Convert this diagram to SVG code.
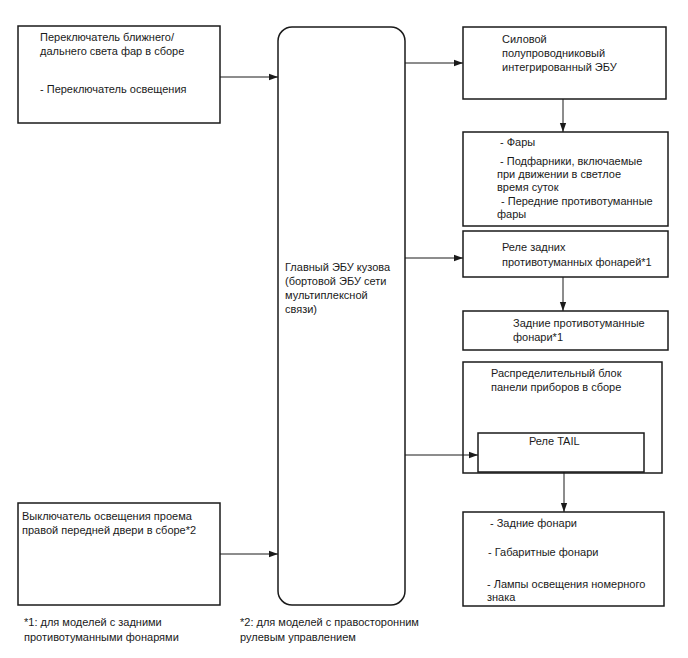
<svg xmlns="http://www.w3.org/2000/svg" width="688" height="658" viewBox="0 0 688 658">
<style>
.b{fill:#fff;stroke:#1a1a1a;stroke-width:1.5}
.c{fill:none;stroke:#1a1a1a;stroke-width:1}
text{font-family:"Liberation Sans",Arial,sans-serif;font-size:11px;fill:#1a1a1a}
</style>
<defs>
<marker id="a" viewBox="0 0 10 10" refX="10" refY="5" markerWidth="9" markerHeight="9" markerUnits="userSpaceOnUse" orient="auto">
<path d="M0,1.5 L10,5 L0,8.5 Z" fill="#1a1a1a"/>
</marker>
</defs>
<rect width="688" height="658" fill="#fff"/>
<g id="n1">
<rect class="b" x="18" y="26" width="202" height="97"/>
<text x="40" y="41">Переключатель ближнего/</text>
<text x="40" y="55">дальнего света фар в сборе</text>
<text x="40" y="93">- Переключатель освещения</text>
</g>
<g id="n2">
<rect class="b" x="18" y="503" width="202" height="102"/>
<text x="22" y="520">Выключатель освещения проема</text>
<text x="22" y="534">правой передней двери в сборе*2</text>
</g>
<g id="main">
<rect class="b" x="278" y="27" width="127" height="578" rx="14" ry="14"/>
<text x="285" y="271">Главный ЭБУ кузова</text>
<text x="285" y="285">(бортовой ЭБУ сети</text>
<text x="285" y="299">мультиплексной</text>
<text x="285" y="313">связи)</text>
</g>
<g id="n3">
<rect class="b" x="463" y="27" width="203" height="72"/>
<text x="502" y="43">Силовой</text>
<text x="502" y="57">полупроводниковый</text>
<text x="502" y="71">интегрированный ЭБУ</text>
</g>
<g id="n4">
<rect class="b" x="463" y="132" width="205" height="94"/>
<text x="500" y="146">- Фары</text>
<text x="500" y="165">- Подфарники, включаемые</text>
<text x="497" y="178">при движении в светлое</text>
<text x="497" y="191">время суток</text>
<text x="501" y="205">- Передние противотуманные</text>
<text x="497" y="218">фары</text>
</g>
<g id="n5">
<rect class="b" x="463" y="231" width="205" height="46"/>
<text x="502" y="251">Реле задних</text>
<text x="502" y="266">противотуманных фонарей*1</text>
</g>
<g id="n6">
<rect class="b" x="463" y="311" width="205" height="39"/>
<text x="513" y="327">Задние противотуманные</text>
<text x="513" y="341">фонари*1</text>
</g>
<g id="n7">
<rect class="b" x="463" y="362" width="199" height="111"/>
<text x="491" y="377">Распределительный блок</text>
<text x="491" y="391">панели приборов в сборе</text>
</g>
<g id="n8">
<rect class="b" x="478" y="433" width="166" height="39"/>
<text x="529" y="445">Реле TAIL</text>
</g>
<g id="n9">
<rect class="b" x="463" y="512" width="201" height="94"/>
<text x="490" y="527">- Задние фонари</text>
<text x="488" y="556">- Габаритные фонари</text>
<text x="487" y="588">- Лампы освещения номерного</text>
<text x="487" y="601">знака</text>
</g>
<g id="notes">
<text x="24" y="626">*1: для моделей с задними</text>
<text x="24" y="641">противотуманными фонарями</text>
<text x="240" y="626">*2: для моделей с правосторонним</text>
<text x="240" y="641">рулевым управлением</text>
</g>
<g id="connectors">
<line class="c" x1="220" y1="77" x2="278" y2="77" marker-end="url(#a)"/>
<line class="c" x1="220" y1="554" x2="278" y2="554" marker-end="url(#a)"/>
<line class="c" x1="405" y1="63" x2="463" y2="63" marker-end="url(#a)"/>
<line class="c" x1="563" y1="99" x2="563" y2="132" marker-end="url(#a)"/>
<line class="c" x1="405" y1="258" x2="463" y2="258" marker-end="url(#a)"/>
<line class="c" x1="563" y1="277" x2="563" y2="311" marker-end="url(#a)"/>
<line class="c" x1="405" y1="455" x2="478" y2="455" marker-end="url(#a)"/>
<line class="c" x1="564" y1="472" x2="564" y2="512" marker-end="url(#a)"/>
</g>
</svg>
